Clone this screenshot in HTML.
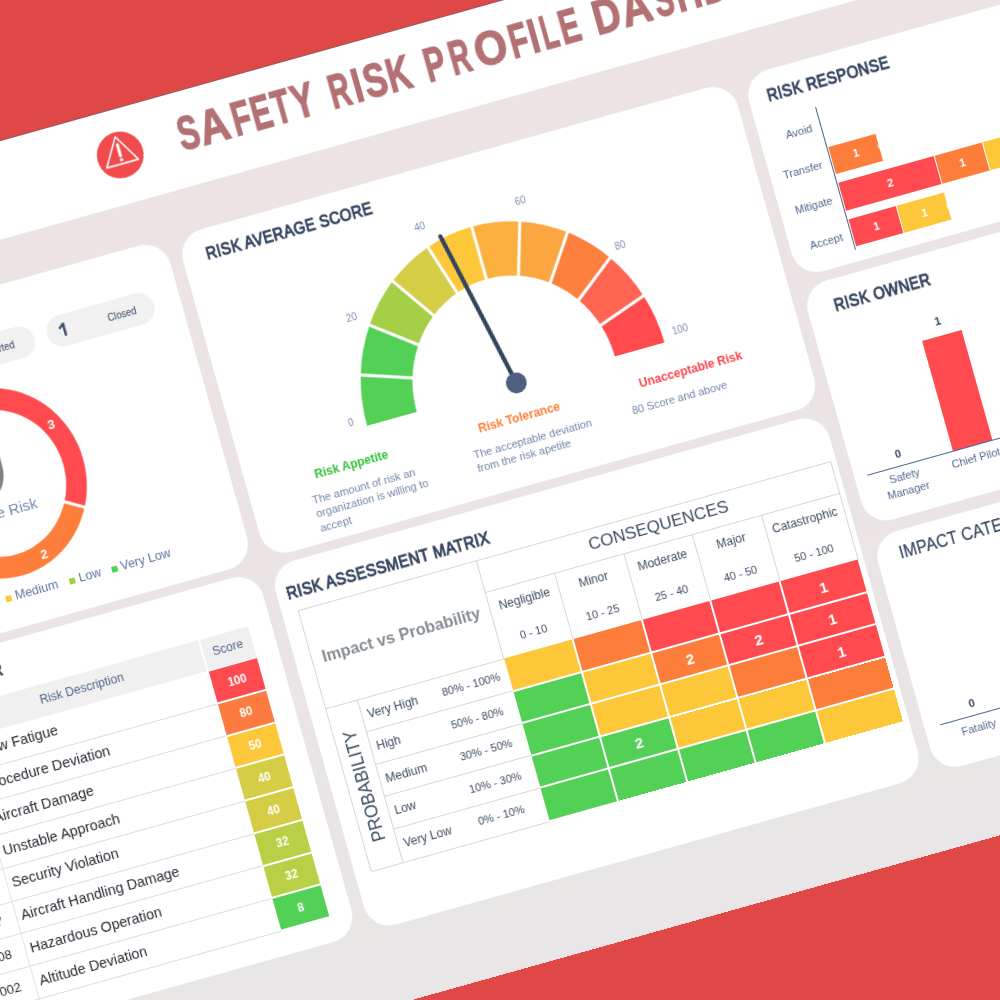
<!DOCTYPE html>
<html><head><meta charset="utf-8"><title>Safety Risk Profile Dashboard</title>
<style>
html,body{margin:0;padding:0;}
body{width:1000px;height:1000px;overflow:hidden;background:#e04848;position:relative;font-family:'Liberation Sans', sans-serif;}
#stage{position:absolute;left:0;top:0;width:0;height:0;transform-origin:0 0;will-change:transform;transform:matrix(0.962964,-0.269630,0.269630,0.962964,0,0);}
</style></head>
<body>
<div id="stage">
<div style="position:absolute;left:-900.00px;top:136.00px;width:2400.00px;height:937.30px;background:linear-gradient(180deg,#ede3e3 0%,#ebe4e4 60%,#e8e6e6 100%);"></div>
<div style="position:absolute;left:-900.00px;top:135.30px;width:2400.00px;height:1.20px;background:rgba(90,100,100,0.55);"></div>
<div style="position:absolute;left:-900.00px;top:1072.60px;width:2400.00px;height:1.20px;background:rgba(255,255,255,0.8);"></div>
<div style="position:absolute;left:-900.00px;top:136.00px;width:2400.00px;height:95.00px;background:#ffffff;"></div>
<svg style="position:absolute;left:50px;top:158px;overflow:visible" width="48" height="48" viewBox="0 0 48 48"><circle cx="24" cy="23.7" r="23.4" fill="#f24b4d"/><path d="M24 4.8 L40.5 32.6 L7.5 32.6 Z" fill="none" stroke="#fff" stroke-width="1.6" stroke-linejoin="round"/><path d="M24 13 L24 24.5" stroke="#fff" stroke-width="3" stroke-linecap="round"/><circle cx="24" cy="28.6" r="1.7" fill="#fff"/></svg>
<div style="position:absolute;left:134.65px;top:155.37px;font:bold 48px/48px 'Liberation Sans', sans-serif;color:#b37174;-webkit-text-stroke:1.3px #b37174;transform-origin:0 0;transform:scaleX(0.6635)">S</div>
<div style="position:absolute;left:156.85px;top:155.37px;font:bold 48px/48px 'Liberation Sans', sans-serif;color:#b37174;-webkit-text-stroke:1.3px #b37174;transform-origin:0 0;transform:scaleX(0.8677)">A</div>
<div style="position:absolute;left:190.51px;top:155.37px;font:bold 48px/48px 'Liberation Sans', sans-serif;color:#b37174;-webkit-text-stroke:1.3px #b37174;transform-origin:0 0;transform:scaleX(0.6439)">F</div>
<div style="position:absolute;left:211.14px;top:155.37px;font:bold 48px/48px 'Liberation Sans', sans-serif;color:#b37174;-webkit-text-stroke:1.3px #b37174;transform-origin:0 0;transform:scaleX(0.6344)">E</div>
<div style="position:absolute;left:233.10px;top:155.37px;font:bold 48px/48px 'Liberation Sans', sans-serif;color:#b37174;-webkit-text-stroke:1.3px #b37174;transform-origin:0 0;transform:scaleX(0.6125)">T</div>
<div style="position:absolute;left:253.10px;top:155.37px;font:bold 48px/48px 'Liberation Sans', sans-serif;color:#b37174;-webkit-text-stroke:1.3px #b37174;transform-origin:0 0;transform:scaleX(0.7146)">Y</div>
<div style="position:absolute;left:292.32px;top:155.37px;font:bold 48px/48px 'Liberation Sans', sans-serif;color:#b37174;-webkit-text-stroke:1.3px #b37174;transform-origin:0 0;transform:scaleX(0.6061)">R</div>
<div style="position:absolute;left:316.02px;top:155.37px;font:bold 48px/48px 'Liberation Sans', sans-serif;color:#b37174;-webkit-text-stroke:1.3px #b37174;transform-origin:0 0;transform:scaleX(0.7401)">I</div>
<div style="position:absolute;left:327.79px;top:155.37px;font:bold 48px/48px 'Liberation Sans', sans-serif;color:#b37174;-webkit-text-stroke:1.3px #b37174;transform-origin:0 0;transform:scaleX(0.7248)">S</div>
<div style="position:absolute;left:352.07px;top:155.37px;font:bold 48px/48px 'Liberation Sans', sans-serif;color:#b37174;-webkit-text-stroke:1.3px #b37174;transform-origin:0 0;transform:scaleX(0.6898)">K</div>
<div style="position:absolute;left:391.20px;top:155.37px;font:bold 48px/48px 'Liberation Sans', sans-serif;color:#b37174;-webkit-text-stroke:1.3px #b37174;transform-origin:0 0;transform:scaleX(0.6477)">P</div>
<div style="position:absolute;left:416.94px;top:155.37px;font:bold 48px/48px 'Liberation Sans', sans-serif;color:#b37174;-webkit-text-stroke:1.3px #b37174;transform-origin:0 0;transform:scaleX(0.5997)">R</div>
<div style="position:absolute;left:442.63px;top:155.37px;font:bold 48px/48px 'Liberation Sans', sans-serif;color:#b37174;-webkit-text-stroke:1.3px #b37174;transform-origin:0 0;transform:scaleX(0.8847)">O</div>
<div style="position:absolute;left:478.91px;top:155.37px;font:bold 48px/48px 'Liberation Sans', sans-serif;color:#b37174;-webkit-text-stroke:1.3px #b37174;transform-origin:0 0;transform:scaleX(0.6439)">F</div>
<div style="position:absolute;left:498.62px;top:155.37px;font:bold 48px/48px 'Liberation Sans', sans-serif;color:#b37174;-webkit-text-stroke:1.3px #b37174;transform-origin:0 0;transform:scaleX(0.7401)">I</div>
<div style="position:absolute;left:511.76px;top:155.37px;font:bold 48px/48px 'Liberation Sans', sans-serif;color:#b37174;-webkit-text-stroke:1.3px #b37174;transform-origin:0 0;transform:scaleX(0.5575)">L</div>
<div style="position:absolute;left:530.52px;top:155.37px;font:bold 48px/48px 'Liberation Sans', sans-serif;color:#b37174;-webkit-text-stroke:1.3px #b37174;transform-origin:0 0;transform:scaleX(0.6380)">E</div>
<div style="position:absolute;left:565.66px;top:155.37px;font:bold 48px/48px 'Liberation Sans', sans-serif;color:#b37174;-webkit-text-stroke:1.3px #b37174;transform-origin:0 0;transform:scaleX(0.7969)">D</div>
<div style="position:absolute;left:595.24px;top:155.37px;font:bold 48px/48px 'Liberation Sans', sans-serif;color:#b37174;-webkit-text-stroke:1.3px #b37174;transform-origin:0 0;transform:scaleX(0.8827)">A</div>
<div style="position:absolute;left:628.90px;top:155.37px;font:bold 48px/48px 'Liberation Sans', sans-serif;color:#b37174;-webkit-text-stroke:1.3px #b37174;transform-origin:0 0;transform:scaleX(0.6091)">S</div>
<div style="position:absolute;left:650.81px;top:155.37px;font:bold 48px/48px 'Liberation Sans', sans-serif;color:#b37174;-webkit-text-stroke:1.3px #b37174;transform-origin:0 0;transform:scaleX(0.7452)">H</div>
<div style="position:absolute;left:678.16px;top:155.37px;font:bold 48px/48px 'Liberation Sans', sans-serif;color:#b37174;-webkit-text-stroke:1.3px #b37174;transform-origin:0 0;transform:scaleX(0.6257)">B</div>
<div style="position:absolute;left:703.14px;top:155.37px;font:bold 48px/48px 'Liberation Sans', sans-serif;color:#b37174;-webkit-text-stroke:1.3px #b37174;transform-origin:0 0;transform:scaleX(0.8791)">O</div>
<div style="position:absolute;left:738.15px;top:155.37px;font:bold 48px/48px 'Liberation Sans', sans-serif;color:#b37174;-webkit-text-stroke:1.3px #b37174;transform-origin:0 0;transform:scaleX(0.8707)">A</div>
<div style="position:absolute;left:771.22px;top:155.37px;font:bold 48px/48px 'Liberation Sans', sans-serif;color:#b37174;-webkit-text-stroke:1.3px #b37174;transform-origin:0 0;transform:scaleX(0.6061)">R</div>
<div style="position:absolute;left:794.68px;top:155.37px;font:bold 48px/48px 'Liberation Sans', sans-serif;color:#b37174;-webkit-text-stroke:1.3px #b37174;transform-origin:0 0;transform:scaleX(0.7903)">D</div>
<div style="position:absolute;left:-500.00px;top:273.50px;width:593.30px;height:336.20px;background:#fff;border-radius:26px;"></div>
<div style="position:absolute;left:105.50px;top:274.50px;width:576.00px;height:335.20px;background:#fff;border-radius:26px;"></div>
<div style="position:absolute;left:693.60px;top:274.00px;width:700.00px;height:209.20px;background:#fff;border-radius:26px;"></div>
<div style="position:absolute;left:693.60px;top:492.90px;width:700.00px;height:247.70px;background:#fff;border-radius:26px;"></div>
<div style="position:absolute;left:693.60px;top:753.40px;width:700.00px;height:244.10px;background:#fff;border-radius:26px;"></div>
<div style="position:absolute;left:-500.00px;top:619.30px;width:593.30px;height:378.20px;background:#fff;border-radius:26px;"></div>
<div style="position:absolute;left:105.80px;top:619.40px;width:575.50px;height:378.10px;background:#fff;border-radius:26px;"></div>
<div style="position:absolute;left:-190.00px;top:318.60px;width:131.50px;height:32.30px;background:#f1f1f2;border-radius:16.15px;"></div>
<div style="position:absolute;left:-1079.30px;top:329.81px;width:1000px;text-align:right;font:normal 10.5px/10.5px 'Liberation Sans', sans-serif;color:#34455f;white-space:nowrap;letter-spacing:0px;transform-origin:100% 0;transform:scaleX(0.9);">Not Started</div>
<div style="position:absolute;left:-170.00px;top:326.61px;font:bold 17px/17px 'Liberation Sans', sans-serif;color:#3e4f6a;white-space:nowrap;letter-spacing:0px;transform-origin:0 0;transform:scaleX(1.0);">3</div>
<div style="position:absolute;left:-44.80px;top:318.60px;width:110.30px;height:32.30px;background:#f1f1f2;border-radius:16.15px;"></div>
<svg style="position:absolute;left:-35px;top:326px;overflow:visible" width="12" height="16"><path d="M8.3 2.4 L8.3 15" stroke="#3e4f6a" stroke-width="2.5" fill="none"/><path d="M8.3 2.6 L4.2 6" stroke="#3e4f6a" stroke-width="2.3" stroke-linecap="round" fill="none"/></svg>
<div style="position:absolute;left:17.50px;top:329.81px;font:normal 10.5px/10.5px 'Liberation Sans', sans-serif;color:#34455f;white-space:nowrap;letter-spacing:0px;transform-origin:0 0;transform:scaleX(0.9);">Closed</div>
<svg style="position:absolute;left:-300px;top:300px;overflow:visible" width="330" height="330"><g transform="translate(166.00,164.50) scale(1,1.059)"><path d="M-1.10 -90.29 A90.3 90.3 0 0 1 78.75 44.19 L60.78 34.11 A69.7 69.7 0 0 0 -0.85 -69.69 Z" fill="#ff4b50"/><path d="M78.75 44.19 A90.3 90.3 0 0 1 -29.85 85.23 L-23.04 65.78 A69.7 69.7 0 0 0 60.78 34.11 Z" fill="#fd7d3b"/><path d="M-29.85 85.23 A90.3 90.3 0 0 1 -89.11 -14.59 L-68.78 -11.26 A69.7 69.7 0 0 0 -23.04 65.78 Z" fill="#fdc73a"/><path d="M-89.11 -14.59 A90.3 90.3 0 0 1 -58.88 -68.46 L-45.45 -52.84 A69.7 69.7 0 0 0 -68.78 -11.26 Z" fill="#a5cf47"/><path d="M-58.88 -68.46 A90.3 90.3 0 0 1 -1.10 -90.29 L-0.85 -69.69 A69.7 69.7 0 0 0 -45.45 -52.84 Z" fill="#53d156"/><line x1="57.56" y1="32.30" x2="81.97" y2="46.00" stroke="#fff" stroke-width="3"/><line x1="-21.81" y1="62.29" x2="-31.07" y2="88.72" stroke="#fff" stroke-width="3"/><line x1="-65.13" y1="-10.67" x2="-92.76" y2="-15.19" stroke="#fff" stroke-width="3"/><line x1="-43.04" y1="-50.04" x2="-61.30" y2="-71.26" stroke="#fff" stroke-width="3"/><line x1="-0.81" y1="-66.00" x2="-1.15" y2="-93.99" stroke="#fff" stroke-width="3"/></g></svg>
<div style="position:absolute;left:-565.20px;width:1000px;text-align:center;top:415.50px;font:bold 13px/13px 'Liberation Sans', sans-serif;color:#fff;white-space:nowrap;letter-spacing:0px;transform-origin:50% 0;transform:scaleX(1.0);">3</div>
<div style="position:absolute;left:-607.00px;width:1000px;text-align:center;top:539.00px;font:bold 13px/13px 'Liberation Sans', sans-serif;color:#fff;white-space:nowrap;letter-spacing:0px;transform-origin:50% 0;transform:scaleX(1.0);">2</div>
<svg style="position:absolute;left:-165px;top:434px;overflow:visible" width="46" height="50"><path d="M23 2 L41.5 4 L41.5 15 C41.5 30 34 40 23 46 C12 40 4.5 30 4.5 15 L4.5 4 Z" fill="#7d8287"/></svg>
<div style="position:absolute;left:-644.50px;width:1000px;text-align:center;top:486.30px;font:normal 15px/15px 'Liberation Sans', sans-serif;color:#7189ae;white-space:nowrap;letter-spacing:0px;transform-origin:50% 0;transform:scaleX(1.0);">Average Risk</div>
<div style="position:absolute;left:-223.00px;top:576.00px;width:6.00px;height:6.00px;background:#ff6450;"></div>
<div style="position:absolute;left:-213.00px;top:572.42px;font:normal 12.5px/12.5px 'Liberation Sans', sans-serif;color:#5b74a0;white-space:nowrap;letter-spacing:0px;transform-origin:0 0;transform:scaleX(1.0);">High</div>
<div style="position:absolute;left:-156.00px;top:576.00px;width:6.00px;height:6.00px;background:#fdc73a;"></div>
<div style="position:absolute;left:-146.00px;top:572.42px;font:normal 12.5px/12.5px 'Liberation Sans', sans-serif;color:#5b74a0;white-space:nowrap;letter-spacing:0px;transform-origin:0 0;transform:scaleX(1.0);">Medium</div>
<div style="position:absolute;left:-89.90px;top:576.00px;width:6.00px;height:6.00px;background:#a5cf47;"></div>
<div style="position:absolute;left:-79.90px;top:572.42px;font:normal 12.5px/12.5px 'Liberation Sans', sans-serif;color:#5b74a0;white-space:nowrap;letter-spacing:0px;transform-origin:0 0;transform:scaleX(1.0);">Low</div>
<div style="position:absolute;left:-46.50px;top:576.00px;width:6.00px;height:6.00px;background:#53d156;"></div>
<div style="position:absolute;left:-36.50px;top:572.42px;font:normal 12.5px/12.5px 'Liberation Sans', sans-serif;color:#5b74a0;white-space:nowrap;letter-spacing:0px;transform-origin:0 0;transform:scaleX(1.0);">Very Low</div>
<div style="position:absolute;left:129.50px;top:291.86px;font:normal 17.3px/17.3px 'Liberation Sans', sans-serif;color:#34455f;white-space:nowrap;letter-spacing:0.45px;transform-origin:0 0;transform:scaleX(0.8584999999999999);-webkit-text-stroke:1.0px #34455f;">RISK AVERAGE SCORE</div>
<svg style="position:absolute;left:200px;top:300px;overflow:visible" width="400" height="260"><g transform="translate(193.10,208.90) scale(1,1.059)"><path d="M-154.40 0.00 A154.4 154.4 0 0 1 -146.84 -47.71 L-97.82 -31.78 A102.85 102.85 0 0 0 -102.85 0.00 Z" fill="#53d156"/><path d="M-146.84 -47.71 A154.4 154.4 0 0 1 -124.91 -90.75 L-83.21 -60.45 A102.85 102.85 0 0 0 -97.82 -31.78 Z" fill="#53d156"/><path d="M-124.91 -90.75 A154.4 154.4 0 0 1 -90.75 -124.91 L-60.45 -83.21 A102.85 102.85 0 0 0 -83.21 -60.45 Z" fill="#a5cf47"/><path d="M-90.75 -124.91 A154.4 154.4 0 0 1 -47.71 -146.84 L-31.78 -97.82 A102.85 102.85 0 0 0 -60.45 -83.21 Z" fill="#d4cd45"/><path d="M-47.71 -146.84 A154.4 154.4 0 0 1 -0.00 -154.40 L-0.00 -102.85 A102.85 102.85 0 0 0 -31.78 -97.82 Z" fill="#fdc73a"/><path d="M-0.00 -154.40 A154.4 154.4 0 0 1 47.71 -146.84 L31.78 -97.82 A102.85 102.85 0 0 0 -0.00 -102.85 Z" fill="#fbb03f"/><path d="M47.71 -146.84 A154.4 154.4 0 0 1 90.75 -124.91 L60.45 -83.21 A102.85 102.85 0 0 0 31.78 -97.82 Z" fill="#fca641"/><path d="M90.75 -124.91 A154.4 154.4 0 0 1 124.91 -90.75 L83.21 -60.45 A102.85 102.85 0 0 0 60.45 -83.21 Z" fill="#fd803f"/><path d="M124.91 -90.75 A154.4 154.4 0 0 1 146.84 -47.71 L97.82 -31.78 A102.85 102.85 0 0 0 83.21 -60.45 Z" fill="#ff6550"/><path d="M146.84 -47.71 A154.4 154.4 0 0 1 154.40 -0.00 L102.85 -0.00 A102.85 102.85 0 0 0 97.82 -31.78 Z" fill="#ff4b4e"/><line x1="-93.20" y1="-30.28" x2="-152.17" y2="-49.44" stroke="#fff" stroke-width="3"/><line x1="-79.28" y1="-57.60" x2="-129.44" y2="-94.05" stroke="#fff" stroke-width="3"/><line x1="-57.60" y1="-79.28" x2="-94.05" y2="-129.44" stroke="#fff" stroke-width="3"/><line x1="-30.28" y1="-93.20" x2="-49.44" y2="-152.17" stroke="#fff" stroke-width="3"/><line x1="-0.00" y1="-98.00" x2="-0.00" y2="-160.00" stroke="#fff" stroke-width="3"/><line x1="30.28" y1="-93.20" x2="49.44" y2="-152.17" stroke="#fff" stroke-width="3"/><line x1="57.60" y1="-79.28" x2="94.05" y2="-129.44" stroke="#fff" stroke-width="3"/><line x1="79.28" y1="-57.60" x2="129.44" y2="-94.05" stroke="#fff" stroke-width="3"/><line x1="93.20" y1="-30.28" x2="152.17" y2="-49.44" stroke="#fff" stroke-width="3"/></g><line x1="194.00" y1="207.80" x2="160.30" y2="46.40" stroke="#34455f" stroke-width="4.3" stroke-linecap="round"/><circle cx="194.00" cy="207.80" r="10.4" fill="#4f5f7f"/></svg>
<div style="position:absolute;left:-275.60px;width:1000px;text-align:center;top:496.29px;font:normal 11px/11px 'Liberation Sans', sans-serif;color:#7b8db0;white-space:nowrap;letter-spacing:0px;transform-origin:50% 0;transform:scaleX(0.88);">0</div>
<div style="position:absolute;left:-246.60px;width:1000px;text-align:center;top:395.39px;font:normal 11px/11px 'Liberation Sans', sans-serif;color:#7b8db0;white-space:nowrap;letter-spacing:0px;transform-origin:50% 0;transform:scaleX(0.88);">20</div>
<div style="position:absolute;left:-156.60px;width:1000px;text-align:center;top:326.09px;font:normal 11px/11px 'Liberation Sans', sans-serif;color:#7b8db0;white-space:nowrap;letter-spacing:0px;transform-origin:50% 0;transform:scaleX(0.88);">40</div>
<div style="position:absolute;left:-53.40px;width:1000px;text-align:center;top:328.39px;font:normal 11px/11px 'Liberation Sans', sans-serif;color:#7b8db0;white-space:nowrap;letter-spacing:0px;transform-origin:50% 0;transform:scaleX(0.88);">60</div>
<div style="position:absolute;left:30.60px;width:1000px;text-align:center;top:397.89px;font:normal 11px/11px 'Liberation Sans', sans-serif;color:#7b8db0;white-space:nowrap;letter-spacing:0px;transform-origin:50% 0;transform:scaleX(0.88);">80</div>
<div style="position:absolute;left:66.10px;width:1000px;text-align:center;top:495.09px;font:normal 11px/11px 'Liberation Sans', sans-serif;color:#7b8db0;white-space:nowrap;letter-spacing:0px;transform-origin:50% 0;transform:scaleX(0.88);">100</div>
<div style="position:absolute;left:175.00px;top:535.84px;font:bold 12px/12px 'Liberation Sans', sans-serif;color:#33c236;white-space:nowrap;letter-spacing:0px;transform-origin:0 0;transform:scaleX(1.0);">Risk Appetite</div>
<div style="position:absolute;left:345.00px;top:536.14px;font:bold 12px/12px 'Liberation Sans', sans-serif;color:#fd7e3a;white-space:nowrap;letter-spacing:0px;transform-origin:0 0;transform:scaleX(1.0);">Risk Tolerance</div>
<div style="position:absolute;left:512.00px;top:536.14px;font:bold 12px/12px 'Liberation Sans', sans-serif;color:#ff434b;white-space:nowrap;letter-spacing:0px;transform-origin:0 0;transform:scaleX(1.0);">Unacceptable Risk</div>
<div style="position:absolute;left:166.00px;top:560.99px;font:normal 11px/11px 'Liberation Sans', sans-serif;color:#7186ab;white-space:nowrap;letter-spacing:0px;transform-origin:0 0;transform:scaleX(1.0);">The amount of risk an</div>
<div style="position:absolute;left:166.00px;top:575.49px;font:normal 11px/11px 'Liberation Sans', sans-serif;color:#7186ab;white-space:nowrap;letter-spacing:0px;transform-origin:0 0;transform:scaleX(1.0);">organization is willing to</div>
<div style="position:absolute;left:166.00px;top:589.99px;font:normal 11px/11px 'Liberation Sans', sans-serif;color:#7186ab;white-space:nowrap;letter-spacing:0px;transform-origin:0 0;transform:scaleX(1.0);">accept</div>
<div style="position:absolute;left:333.50px;top:560.99px;font:normal 11px/11px 'Liberation Sans', sans-serif;color:#7186ab;white-space:nowrap;letter-spacing:0px;transform-origin:0 0;transform:scaleX(1.0);">The acceptable deviation</div>
<div style="position:absolute;left:333.50px;top:575.49px;font:normal 11px/11px 'Liberation Sans', sans-serif;color:#7186ab;white-space:nowrap;letter-spacing:0px;transform-origin:0 0;transform:scaleX(1.0);">from the risk apetite</div>
<div style="position:absolute;left:498.00px;top:560.69px;font:normal 11px/11px 'Liberation Sans', sans-serif;color:#7186ab;white-space:nowrap;letter-spacing:0px;transform-origin:0 0;transform:scaleX(1.0);">80 Score and above</div>
<div style="position:absolute;left:713.00px;top:290.66px;font:normal 17.3px/17.3px 'Liberation Sans', sans-serif;color:#34455f;white-space:nowrap;letter-spacing:0.45px;transform-origin:0 0;transform:scaleX(0.8584999999999999);-webkit-text-stroke:1.0px #34455f;">RISK RESPONSE</div>
<div style="position:absolute;left:756.10px;top:322.80px;width:1.00px;height:148.20px;background:#4a6590;"></div>
<div style="position:absolute;left:-252.50px;top:337.19px;width:1000px;text-align:right;font:normal 11px/11px 'Liberation Sans', sans-serif;color:#51688f;white-space:nowrap;letter-spacing:0px;transform-origin:100% 0;transform:scaleX(1.0);">Avoid</div>
<div style="position:absolute;left:-252.50px;top:374.69px;width:1000px;text-align:right;font:normal 11px/11px 'Liberation Sans', sans-serif;color:#51688f;white-space:nowrap;letter-spacing:0px;transform-origin:100% 0;transform:scaleX(1.0);">Transfer</div>
<div style="position:absolute;left:-252.50px;top:411.99px;width:1000px;text-align:right;font:normal 11px/11px 'Liberation Sans', sans-serif;color:#51688f;white-space:nowrap;letter-spacing:0px;transform-origin:100% 0;transform:scaleX(1.0);">Mitigate</div>
<div style="position:absolute;left:-252.50px;top:449.69px;width:1000px;text-align:right;font:normal 11px/11px 'Liberation Sans', sans-serif;color:#51688f;white-space:nowrap;letter-spacing:0px;transform-origin:100% 0;transform:scaleX(1.0);">Accept</div>
<div style="position:absolute;left:758.00px;top:364.50px;width:50.00px;height:28.70px;background:#fd7d3b;"></div>
<div style="position:absolute;left:283.00px;width:1000px;text-align:center;top:373.49px;font:bold 11px/11px 'Liberation Sans', sans-serif;color:#fff;white-space:nowrap;letter-spacing:0px;transform-origin:50% 0;transform:scaleX(1.0);">1</div>
<div style="position:absolute;left:807.25px;top:364.50px;width:1.50px;height:28.70px;background:#fff;"></div>
<div style="position:absolute;left:308.00px;width:1000px;text-align:center;top:374.38px;font:normal 9px/9px 'Liberation Sans', sans-serif;color:#fff;white-space:nowrap;letter-spacing:0px;transform-origin:50% 0;transform:scaleX(1.0);">0</div>
<div style="position:absolute;left:758.00px;top:402.00px;width:100.00px;height:28.70px;background:#ff4b50;"></div>
<div style="position:absolute;left:308.00px;width:1000px;text-align:center;top:410.99px;font:bold 11px/11px 'Liberation Sans', sans-serif;color:#fff;white-space:nowrap;letter-spacing:0px;transform-origin:50% 0;transform:scaleX(1.0);">2</div>
<div style="position:absolute;left:857.25px;top:402.00px;width:1.50px;height:28.70px;background:#fff;"></div>
<div style="position:absolute;left:858.00px;top:402.00px;width:50.00px;height:28.70px;background:#fd7d3b;"></div>
<div style="position:absolute;left:383.00px;width:1000px;text-align:center;top:410.99px;font:bold 11px/11px 'Liberation Sans', sans-serif;color:#fff;white-space:nowrap;letter-spacing:0px;transform-origin:50% 0;transform:scaleX(1.0);">1</div>
<div style="position:absolute;left:907.25px;top:402.00px;width:1.50px;height:28.70px;background:#fff;"></div>
<div style="position:absolute;left:908.00px;top:402.00px;width:50.00px;height:28.70px;background:#fdc73a;"></div>
<div style="position:absolute;left:433.00px;width:1000px;text-align:center;top:410.99px;font:bold 11px/11px 'Liberation Sans', sans-serif;color:#fff;white-space:nowrap;letter-spacing:0px;transform-origin:50% 0;transform:scaleX(1.0);">1</div>
<div style="position:absolute;left:957.25px;top:402.00px;width:1.50px;height:28.70px;background:#fff;"></div>
<div style="position:absolute;left:458.00px;width:1000px;text-align:center;top:411.88px;font:normal 9px/9px 'Liberation Sans', sans-serif;color:#fff;white-space:nowrap;letter-spacing:0px;transform-origin:50% 0;transform:scaleX(1.0);">0</div>
<div style="position:absolute;left:758.00px;top:439.70px;width:50.00px;height:28.70px;background:#ff4b50;"></div>
<div style="position:absolute;left:283.00px;width:1000px;text-align:center;top:448.69px;font:bold 11px/11px 'Liberation Sans', sans-serif;color:#fff;white-space:nowrap;letter-spacing:0px;transform-origin:50% 0;transform:scaleX(1.0);">1</div>
<div style="position:absolute;left:807.25px;top:439.70px;width:1.50px;height:28.70px;background:#fff;"></div>
<div style="position:absolute;left:808.00px;top:439.70px;width:50.00px;height:28.70px;background:#fdc73a;"></div>
<div style="position:absolute;left:333.00px;width:1000px;text-align:center;top:448.69px;font:bold 11px/11px 'Liberation Sans', sans-serif;color:#fff;white-space:nowrap;letter-spacing:0px;transform-origin:50% 0;transform:scaleX(1.0);">1</div>
<div style="position:absolute;left:857.25px;top:439.70px;width:1.50px;height:28.70px;background:#fff;"></div>
<div style="position:absolute;left:358.00px;width:1000px;text-align:center;top:449.58px;font:normal 9px/9px 'Liberation Sans', sans-serif;color:#fff;white-space:nowrap;letter-spacing:0px;transform-origin:50% 0;transform:scaleX(1.0);">0</div>
<div style="position:absolute;left:721.00px;top:511.36px;font:normal 17.3px/17.3px 'Liberation Sans', sans-serif;color:#34455f;white-space:nowrap;letter-spacing:0.45px;transform-origin:0 0;transform:scaleX(0.8584999999999999);-webkit-text-stroke:1.0px #34455f;">RISK OWNER</div>
<div style="position:absolute;left:706.50px;top:690.90px;width:593.50px;height:1.00px;background:#4a6590;"></div>
<div style="position:absolute;left:796.00px;top:576.50px;width:41.00px;height:114.50px;background:#ff4b50;"></div>
<div style="position:absolute;left:316.30px;width:1000px;text-align:center;top:557.49px;font:bold 11px/11px 'Liberation Sans', sans-serif;color:#34455f;white-space:nowrap;letter-spacing:0px;transform-origin:50% 0;transform:scaleX(1.0);">1</div>
<div style="position:absolute;left:242.40px;width:1000px;text-align:center;top:673.69px;font:bold 11px/11px 'Liberation Sans', sans-serif;color:#34455f;white-space:nowrap;letter-spacing:0px;transform-origin:50% 0;transform:scaleX(1.0);">0</div>
<div style="position:absolute;left:242.70px;width:1000px;text-align:center;top:696.69px;font:normal 11px/11px 'Liberation Sans', sans-serif;color:#51688f;white-space:nowrap;letter-spacing:0px;transform-origin:50% 0;transform:scaleX(1.0);">Safety</div>
<div style="position:absolute;left:242.70px;width:1000px;text-align:center;top:711.69px;font:normal 11px/11px 'Liberation Sans', sans-serif;color:#51688f;white-space:nowrap;letter-spacing:0px;transform-origin:50% 0;transform:scaleX(1.0);">Manager</div>
<div style="position:absolute;left:316.30px;width:1000px;text-align:center;top:698.69px;font:normal 11px/11px 'Liberation Sans', sans-serif;color:#51688f;white-space:nowrap;letter-spacing:0px;transform-origin:50% 0;transform:scaleX(1.0);">Chief Pilot</div>
<div style="position:absolute;left:716.50px;top:765.91px;font:normal 18.3px/18.3px 'Liberation Sans', sans-serif;color:#34455f;white-space:nowrap;letter-spacing:0.2px;transform-origin:0 0;transform:scaleX(0.875);-webkit-text-stroke:0.2px #34455f;">IMPACT CATEGORY</div>
<div style="position:absolute;left:709.80px;top:950.50px;width:590.20px;height:1.00px;background:#4a6590;"></div>
<div style="position:absolute;left:246.00px;width:1000px;text-align:center;top:933.69px;font:bold 11px/11px 'Liberation Sans', sans-serif;color:#34455f;white-space:nowrap;letter-spacing:0px;transform-origin:50% 0;transform:scaleX(1.0);">0</div>
<div style="position:absolute;left:246.50px;width:1000px;text-align:center;top:958.69px;font:normal 11px/11px 'Liberation Sans', sans-serif;color:#51688f;white-space:nowrap;letter-spacing:0px;transform-origin:50% 0;transform:scaleX(1.0);">Fatality</div>
<div style="position:absolute;left:-1178.00px;top:635.76px;width:1000px;text-align:right;font:bold 18px/18px 'Liberation Sans', sans-serif;color:#34455f;white-space:nowrap;letter-spacing:0px;transform-origin:100% 0;transform:scaleX(0.85);transform-origin:100% 0;">TOP RISKS REGISTER</div>
<div style="position:absolute;left:-500.00px;top:669.50px;width:518.00px;height:32.00px;background:#f0f0f0;"></div>
<div style="position:absolute;left:20.00px;top:669.50px;width:49.50px;height:32.00px;background:#f0f0f0;"></div>
<div style="position:absolute;left:-607.00px;width:1000px;text-align:center;top:679.34px;font:normal 12px/12px 'Liberation Sans', sans-serif;color:#4e6489;white-space:nowrap;letter-spacing:0px;transform-origin:50% 0;transform:scaleX(1.0);">Risk Description</div>
<div style="position:absolute;left:-455.30px;width:1000px;text-align:center;top:678.84px;font:normal 12px/12px 'Liberation Sans', sans-serif;color:#4e6489;white-space:nowrap;letter-spacing:0px;transform-origin:50% 0;transform:scaleX(1.0);">Score</div>
<div style="position:absolute;left:19.50px;top:703.00px;width:50.00px;height:31.75px;background:#ff4b50;"></div>
<div style="position:absolute;left:-455.50px;width:1000px;text-align:center;top:711.57px;font:bold 13.5px/13.5px 'Liberation Sans', sans-serif;color:#fff;white-space:nowrap;letter-spacing:0px;transform-origin:50% 0;transform:scaleX(0.85);">100</div>
<div style="position:absolute;left:-500.00px;top:735.55px;width:519.50px;height:1.00px;background:#dcdcdc;"></div>
<div style="position:absolute;left:-226.50px;top:711.37px;font:normal 14.33px/14.33px 'Liberation Sans', sans-serif;color:#262b33;white-space:nowrap;letter-spacing:0px;transform-origin:0 0;transform:scaleX(1.0);">Crew Fatigue</div>
<div style="position:absolute;left:-1246.00px;top:712.50px;width:1000px;text-align:right;font:normal 13px/13px 'Liberation Sans', sans-serif;color:#262b33;white-space:nowrap;letter-spacing:0px;transform-origin:100% 0;transform:scaleX(1.0);">RSK-001</div>
<div style="position:absolute;left:19.50px;top:736.75px;width:50.00px;height:31.75px;background:#fd7a40;"></div>
<div style="position:absolute;left:-455.50px;width:1000px;text-align:center;top:745.32px;font:bold 13.5px/13.5px 'Liberation Sans', sans-serif;color:#fff;white-space:nowrap;letter-spacing:0px;transform-origin:50% 0;transform:scaleX(0.85);">80</div>
<div style="position:absolute;left:-500.00px;top:769.30px;width:519.50px;height:1.00px;background:#dcdcdc;"></div>
<div style="position:absolute;left:-226.50px;top:745.12px;font:normal 14.33px/14.33px 'Liberation Sans', sans-serif;color:#262b33;white-space:nowrap;letter-spacing:0px;transform-origin:0 0;transform:scaleX(1.0);">Procedure Deviation</div>
<div style="position:absolute;left:-1246.00px;top:746.25px;width:1000px;text-align:right;font:normal 13px/13px 'Liberation Sans', sans-serif;color:#262b33;white-space:nowrap;letter-spacing:0px;transform-origin:100% 0;transform:scaleX(1.0);">RSK-003</div>
<div style="position:absolute;left:19.50px;top:770.50px;width:50.00px;height:31.75px;background:#fdc73a;"></div>
<div style="position:absolute;left:-455.50px;width:1000px;text-align:center;top:779.07px;font:bold 13.5px/13.5px 'Liberation Sans', sans-serif;color:#fff;white-space:nowrap;letter-spacing:0px;transform-origin:50% 0;transform:scaleX(0.85);">50</div>
<div style="position:absolute;left:-500.00px;top:803.05px;width:519.50px;height:1.00px;background:#dcdcdc;"></div>
<div style="position:absolute;left:-226.50px;top:778.87px;font:normal 14.33px/14.33px 'Liberation Sans', sans-serif;color:#262b33;white-space:nowrap;letter-spacing:0px;transform-origin:0 0;transform:scaleX(1.0);">Aircraft Damage</div>
<div style="position:absolute;left:-1246.00px;top:780.00px;width:1000px;text-align:right;font:normal 13px/13px 'Liberation Sans', sans-serif;color:#262b33;white-space:nowrap;letter-spacing:0px;transform-origin:100% 0;transform:scaleX(1.0);">RSK-005</div>
<div style="position:absolute;left:19.50px;top:804.25px;width:50.00px;height:31.75px;background:#d4cd45;"></div>
<div style="position:absolute;left:-455.50px;width:1000px;text-align:center;top:812.82px;font:bold 13.5px/13.5px 'Liberation Sans', sans-serif;color:#fff;white-space:nowrap;letter-spacing:0px;transform-origin:50% 0;transform:scaleX(0.85);">40</div>
<div style="position:absolute;left:-500.00px;top:836.80px;width:519.50px;height:1.00px;background:#dcdcdc;"></div>
<div style="position:absolute;left:-226.50px;top:812.62px;font:normal 14.33px/14.33px 'Liberation Sans', sans-serif;color:#262b33;white-space:nowrap;letter-spacing:0px;transform-origin:0 0;transform:scaleX(1.0);">Unstable Approach</div>
<div style="position:absolute;left:-1246.00px;top:813.75px;width:1000px;text-align:right;font:normal 13px/13px 'Liberation Sans', sans-serif;color:#262b33;white-space:nowrap;letter-spacing:0px;transform-origin:100% 0;transform:scaleX(1.0);">RSK-004</div>
<div style="position:absolute;left:19.50px;top:838.00px;width:50.00px;height:31.75px;background:#d4cd45;"></div>
<div style="position:absolute;left:-455.50px;width:1000px;text-align:center;top:846.57px;font:bold 13.5px/13.5px 'Liberation Sans', sans-serif;color:#fff;white-space:nowrap;letter-spacing:0px;transform-origin:50% 0;transform:scaleX(0.85);">40</div>
<div style="position:absolute;left:-500.00px;top:870.55px;width:519.50px;height:1.00px;background:#dcdcdc;"></div>
<div style="position:absolute;left:-226.50px;top:846.37px;font:normal 14.33px/14.33px 'Liberation Sans', sans-serif;color:#262b33;white-space:nowrap;letter-spacing:0px;transform-origin:0 0;transform:scaleX(1.0);">Security Violation</div>
<div style="position:absolute;left:-1246.00px;top:847.50px;width:1000px;text-align:right;font:normal 13px/13px 'Liberation Sans', sans-serif;color:#262b33;white-space:nowrap;letter-spacing:0px;transform-origin:100% 0;transform:scaleX(1.0);">RSK-006</div>
<div style="position:absolute;left:19.50px;top:871.75px;width:50.00px;height:31.75px;background:#b9cf45;"></div>
<div style="position:absolute;left:-455.50px;width:1000px;text-align:center;top:880.32px;font:bold 13.5px/13.5px 'Liberation Sans', sans-serif;color:#fff;white-space:nowrap;letter-spacing:0px;transform-origin:50% 0;transform:scaleX(0.85);">32</div>
<div style="position:absolute;left:-500.00px;top:904.30px;width:519.50px;height:1.00px;background:#dcdcdc;"></div>
<div style="position:absolute;left:-226.50px;top:880.12px;font:normal 14.33px/14.33px 'Liberation Sans', sans-serif;color:#262b33;white-space:nowrap;letter-spacing:0px;transform-origin:0 0;transform:scaleX(1.0);">Aircraft Handling Damage</div>
<div style="position:absolute;left:-1246.00px;top:881.25px;width:1000px;text-align:right;font:normal 13px/13px 'Liberation Sans', sans-serif;color:#262b33;white-space:nowrap;letter-spacing:0px;transform-origin:100% 0;transform:scaleX(1.0);">RSK-007</div>
<div style="position:absolute;left:19.50px;top:905.50px;width:50.00px;height:31.75px;background:#b9cf45;"></div>
<div style="position:absolute;left:-455.50px;width:1000px;text-align:center;top:914.07px;font:bold 13.5px/13.5px 'Liberation Sans', sans-serif;color:#fff;white-space:nowrap;letter-spacing:0px;transform-origin:50% 0;transform:scaleX(0.85);">32</div>
<div style="position:absolute;left:-500.00px;top:938.05px;width:519.50px;height:1.00px;background:#dcdcdc;"></div>
<div style="position:absolute;left:-226.50px;top:913.87px;font:normal 14.33px/14.33px 'Liberation Sans', sans-serif;color:#262b33;white-space:nowrap;letter-spacing:0px;transform-origin:0 0;transform:scaleX(1.0);">Hazardous Operation</div>
<div style="position:absolute;left:-1246.00px;top:915.00px;width:1000px;text-align:right;font:normal 13px/13px 'Liberation Sans', sans-serif;color:#262b33;white-space:nowrap;letter-spacing:0px;transform-origin:100% 0;transform:scaleX(1.0);">RSK-008</div>
<div style="position:absolute;left:19.50px;top:939.25px;width:50.00px;height:31.75px;background:#53d156;"></div>
<div style="position:absolute;left:-455.50px;width:1000px;text-align:center;top:947.82px;font:bold 13.5px/13.5px 'Liberation Sans', sans-serif;color:#fff;white-space:nowrap;letter-spacing:0px;transform-origin:50% 0;transform:scaleX(0.85);">8</div>
<div style="position:absolute;left:-500.00px;top:971.80px;width:519.50px;height:1.00px;background:#dcdcdc;"></div>
<div style="position:absolute;left:-226.50px;top:947.62px;font:normal 14.33px/14.33px 'Liberation Sans', sans-serif;color:#262b33;white-space:nowrap;letter-spacing:0px;transform-origin:0 0;transform:scaleX(1.0);">Altitude Deviation</div>
<div style="position:absolute;left:-1246.00px;top:948.75px;width:1000px;text-align:right;font:normal 13px/13px 'Liberation Sans', sans-serif;color:#262b33;white-space:nowrap;letter-spacing:0px;transform-origin:100% 0;transform:scaleX(1.0);">RSK-002</div>
<div style="position:absolute;left:-232.50px;top:701.50px;width:1.00px;height:295.50px;background:#e2e2e2;"></div>
<div style="position:absolute;left:116.00px;top:641.36px;font:normal 17.3px/17.3px 'Liberation Sans', sans-serif;color:#34455f;white-space:nowrap;letter-spacing:0.45px;transform-origin:0 0;transform:scaleX(0.87365);-webkit-text-stroke:1.0px #34455f;">RISK ASSESSMENT MATRIX</div>
<div style="position:absolute;left:122.50px;top:667.50px;width:553.30px;height:1.00px;background:#d6d6d6;"></div>
<div style="position:absolute;left:122.00px;top:668.00px;width:1.00px;height:271.00px;background:#d6d6d6;"></div>
<div style="position:absolute;left:122.50px;top:938.50px;width:185.30px;height:1.00px;background:#d6d6d6;"></div>
<div style="position:absolute;left:675.30px;top:668.00px;width:1.00px;height:102.30px;background:#d6d6d6;"></div>
<div style="position:absolute;left:307.30px;top:668.00px;width:1.00px;height:102.30px;background:#d6d6d6;"></div>
<div style="position:absolute;left:122.50px;top:769.80px;width:185.30px;height:1.00px;background:#d6d6d6;"></div>
<div style="position:absolute;left:307.80px;top:700.50px;width:368.00px;height:1.00px;background:#d6d6d6;"></div>
<div style="position:absolute;left:378.70px;top:701.00px;width:1.00px;height:69.30px;background:#d6d6d6;"></div>
<div style="position:absolute;left:450.70px;top:701.00px;width:1.00px;height:69.30px;background:#d6d6d6;"></div>
<div style="position:absolute;left:521.90px;top:701.00px;width:1.00px;height:69.30px;background:#d6d6d6;"></div>
<div style="position:absolute;left:593.60px;top:701.00px;width:1.00px;height:69.30px;background:#d6d6d6;"></div>
<div style="position:absolute;left:154.80px;top:770.30px;width:1.00px;height:168.70px;background:#d6d6d6;"></div>
<div style="position:absolute;left:155.30px;top:803.30px;width:152.50px;height:1.00px;background:#d6d6d6;"></div>
<div style="position:absolute;left:155.30px;top:836.80px;width:152.50px;height:1.00px;background:#d6d6d6;"></div>
<div style="position:absolute;left:155.30px;top:870.30px;width:152.50px;height:1.00px;background:#d6d6d6;"></div>
<div style="position:absolute;left:155.30px;top:903.80px;width:152.50px;height:1.00px;background:#d6d6d6;"></div>
<div style="position:absolute;left:307.80px;top:770.30px;width:70.40px;height:32.50px;background:#fdc73a;"></div>
<div style="position:absolute;left:380.20px;top:770.30px;width:70.00px;height:32.50px;background:#fd7d3b;"></div>
<div style="position:absolute;left:452.20px;top:770.30px;width:69.20px;height:32.50px;background:#ff4b50;"></div>
<div style="position:absolute;left:523.40px;top:770.30px;width:69.70px;height:32.50px;background:#ff4b50;"></div>
<div style="position:absolute;left:595.10px;top:770.30px;width:80.20px;height:32.50px;background:#ff4b50;"></div>
<div style="position:absolute;left:134.70px;width:1000px;text-align:center;top:779.85px;font:bold 15px/15px 'Liberation Sans', sans-serif;color:#fff;white-space:nowrap;letter-spacing:0px;transform-origin:50% 0;transform:scaleX(1.0);">1</div>
<div style="position:absolute;left:307.80px;top:804.80px;width:70.40px;height:31.50px;background:#53d156;"></div>
<div style="position:absolute;left:380.20px;top:804.80px;width:70.00px;height:31.50px;background:#fdc73a;"></div>
<div style="position:absolute;left:452.20px;top:804.80px;width:69.20px;height:31.50px;background:#fd7d3b;"></div>
<div style="position:absolute;left:-13.20px;width:1000px;text-align:center;top:813.35px;font:bold 15px/15px 'Liberation Sans', sans-serif;color:#fff;white-space:nowrap;letter-spacing:0px;transform-origin:50% 0;transform:scaleX(1.0);">2</div>
<div style="position:absolute;left:523.40px;top:804.80px;width:69.70px;height:31.50px;background:#ff4b50;"></div>
<div style="position:absolute;left:58.25px;width:1000px;text-align:center;top:813.35px;font:bold 15px/15px 'Liberation Sans', sans-serif;color:#fff;white-space:nowrap;letter-spacing:0px;transform-origin:50% 0;transform:scaleX(1.0);">2</div>
<div style="position:absolute;left:595.10px;top:804.80px;width:80.20px;height:31.50px;background:#ff4b50;"></div>
<div style="position:absolute;left:134.70px;width:1000px;text-align:center;top:813.35px;font:bold 15px/15px 'Liberation Sans', sans-serif;color:#fff;white-space:nowrap;letter-spacing:0px;transform-origin:50% 0;transform:scaleX(1.0);">1</div>
<div style="position:absolute;left:307.80px;top:838.30px;width:70.40px;height:31.50px;background:#53d156;"></div>
<div style="position:absolute;left:380.20px;top:838.30px;width:70.00px;height:31.50px;background:#fdc73a;"></div>
<div style="position:absolute;left:452.20px;top:838.30px;width:69.20px;height:31.50px;background:#fdc73a;"></div>
<div style="position:absolute;left:523.40px;top:838.30px;width:69.70px;height:31.50px;background:#fd7d3b;"></div>
<div style="position:absolute;left:595.10px;top:838.30px;width:80.20px;height:31.50px;background:#ff4b50;"></div>
<div style="position:absolute;left:134.70px;width:1000px;text-align:center;top:846.85px;font:bold 15px/15px 'Liberation Sans', sans-serif;color:#fff;white-space:nowrap;letter-spacing:0px;transform-origin:50% 0;transform:scaleX(1.0);">1</div>
<div style="position:absolute;left:307.80px;top:871.80px;width:70.40px;height:31.50px;background:#53d156;"></div>
<div style="position:absolute;left:380.20px;top:871.80px;width:70.00px;height:31.50px;background:#53d156;"></div>
<div style="position:absolute;left:-84.80px;width:1000px;text-align:center;top:880.35px;font:bold 15px/15px 'Liberation Sans', sans-serif;color:#fff;white-space:nowrap;letter-spacing:0px;transform-origin:50% 0;transform:scaleX(1.0);">2</div>
<div style="position:absolute;left:452.20px;top:871.80px;width:69.20px;height:31.50px;background:#fdc73a;"></div>
<div style="position:absolute;left:523.40px;top:871.80px;width:69.70px;height:31.50px;background:#fdc73a;"></div>
<div style="position:absolute;left:595.10px;top:871.80px;width:80.20px;height:31.50px;background:#fd7d3b;"></div>
<div style="position:absolute;left:307.80px;top:905.30px;width:70.40px;height:32.50px;background:#53d156;"></div>
<div style="position:absolute;left:380.20px;top:905.30px;width:70.00px;height:32.50px;background:#53d156;"></div>
<div style="position:absolute;left:452.20px;top:905.30px;width:69.20px;height:32.50px;background:#53d156;"></div>
<div style="position:absolute;left:523.40px;top:905.30px;width:69.70px;height:32.50px;background:#53d156;"></div>
<div style="position:absolute;left:595.10px;top:905.30px;width:80.20px;height:32.50px;background:#fdc73a;"></div>
<div style="position:absolute;left:-284.80px;width:1000px;text-align:center;top:711.20px;font:bold 16.3px/16.3px 'Liberation Sans', sans-serif;color:#858c93;white-space:nowrap;letter-spacing:0px;transform-origin:50% 0;transform:scaleX(1.0);">Impact vs Probability</div>
<div style="position:absolute;left:-7.70px;width:1000px;text-align:center;top:675.11px;font:normal 17px/17px 'Liberation Sans', sans-serif;color:#3d4b63;white-space:nowrap;letter-spacing:0px;transform-origin:50% 0;transform:scaleX(1.0);">CONSEQUENCES</div>
<div style="position:absolute;left:-156.50px;width:1000px;text-align:center;top:712.14px;font:normal 12px/12px 'Liberation Sans', sans-serif;color:#3d4b63;white-space:nowrap;letter-spacing:0px;transform-origin:50% 0;transform:scaleX(1.0);">Negligible</div>
<div style="position:absolute;left:-156.50px;width:1000px;text-align:center;top:746.69px;font:normal 11px/11px 'Liberation Sans', sans-serif;color:#3d4b63;white-space:nowrap;letter-spacing:0px;transform-origin:50% 0;transform:scaleX(1.0);">0 - 10</div>
<div style="position:absolute;left:-84.80px;width:1000px;text-align:center;top:712.14px;font:normal 12px/12px 'Liberation Sans', sans-serif;color:#3d4b63;white-space:nowrap;letter-spacing:0px;transform-origin:50% 0;transform:scaleX(1.0);">Minor</div>
<div style="position:absolute;left:-84.80px;width:1000px;text-align:center;top:746.69px;font:normal 11px/11px 'Liberation Sans', sans-serif;color:#3d4b63;white-space:nowrap;letter-spacing:0px;transform-origin:50% 0;transform:scaleX(1.0);">10 - 25</div>
<div style="position:absolute;left:-13.20px;width:1000px;text-align:center;top:712.14px;font:normal 12px/12px 'Liberation Sans', sans-serif;color:#3d4b63;white-space:nowrap;letter-spacing:0px;transform-origin:50% 0;transform:scaleX(1.0);">Moderate</div>
<div style="position:absolute;left:-13.20px;width:1000px;text-align:center;top:746.69px;font:normal 11px/11px 'Liberation Sans', sans-serif;color:#3d4b63;white-space:nowrap;letter-spacing:0px;transform-origin:50% 0;transform:scaleX(1.0);">25 - 40</div>
<div style="position:absolute;left:58.25px;width:1000px;text-align:center;top:712.14px;font:normal 12px/12px 'Liberation Sans', sans-serif;color:#3d4b63;white-space:nowrap;letter-spacing:0px;transform-origin:50% 0;transform:scaleX(1.0);">Major</div>
<div style="position:absolute;left:58.25px;width:1000px;text-align:center;top:746.69px;font:normal 11px/11px 'Liberation Sans', sans-serif;color:#3d4b63;white-space:nowrap;letter-spacing:0px;transform-origin:50% 0;transform:scaleX(1.0);">40 - 50</div>
<div style="position:absolute;left:134.70px;width:1000px;text-align:center;top:712.14px;font:normal 12px/12px 'Liberation Sans', sans-serif;color:#3d4b63;white-space:nowrap;letter-spacing:0px;transform-origin:50% 0;transform:scaleX(1.0);">Catastrophic</div>
<div style="position:absolute;left:134.70px;width:1000px;text-align:center;top:746.69px;font:normal 11px/11px 'Liberation Sans', sans-serif;color:#3d4b63;white-space:nowrap;letter-spacing:0px;transform-origin:50% 0;transform:scaleX(1.0);">50 - 100</div>
<div style="position:absolute;left:161.50px;top:780.64px;font:normal 12px/12px 'Liberation Sans', sans-serif;color:#3d4b63;white-space:nowrap;letter-spacing:0px;transform-origin:0 0;transform:scaleX(1.0);">Very High</div>
<div style="position:absolute;left:239.00px;top:781.49px;font:normal 11px/11px 'Liberation Sans', sans-serif;color:#3d4b63;white-space:nowrap;letter-spacing:0px;transform-origin:0 0;transform:scaleX(1.0);">80% - 100%</div>
<div style="position:absolute;left:161.50px;top:814.14px;font:normal 12px/12px 'Liberation Sans', sans-serif;color:#3d4b63;white-space:nowrap;letter-spacing:0px;transform-origin:0 0;transform:scaleX(1.0);">High</div>
<div style="position:absolute;left:239.00px;top:814.99px;font:normal 11px/11px 'Liberation Sans', sans-serif;color:#3d4b63;white-space:nowrap;letter-spacing:0px;transform-origin:0 0;transform:scaleX(1.0);">50% - 80%</div>
<div style="position:absolute;left:161.50px;top:847.64px;font:normal 12px/12px 'Liberation Sans', sans-serif;color:#3d4b63;white-space:nowrap;letter-spacing:0px;transform-origin:0 0;transform:scaleX(1.0);">Medium</div>
<div style="position:absolute;left:239.00px;top:848.49px;font:normal 11px/11px 'Liberation Sans', sans-serif;color:#3d4b63;white-space:nowrap;letter-spacing:0px;transform-origin:0 0;transform:scaleX(1.0);">30% - 50%</div>
<div style="position:absolute;left:161.50px;top:881.14px;font:normal 12px/12px 'Liberation Sans', sans-serif;color:#3d4b63;white-space:nowrap;letter-spacing:0px;transform-origin:0 0;transform:scaleX(1.0);">Low</div>
<div style="position:absolute;left:239.00px;top:881.99px;font:normal 11px/11px 'Liberation Sans', sans-serif;color:#3d4b63;white-space:nowrap;letter-spacing:0px;transform-origin:0 0;transform:scaleX(1.0);">10% - 30%</div>
<div style="position:absolute;left:161.50px;top:914.64px;font:normal 12px/12px 'Liberation Sans', sans-serif;color:#3d4b63;white-space:nowrap;letter-spacing:0px;transform-origin:0 0;transform:scaleX(1.0);">Very Low</div>
<div style="position:absolute;left:239.00px;top:915.49px;font:normal 11px/11px 'Liberation Sans', sans-serif;color:#3d4b63;white-space:nowrap;letter-spacing:0px;transform-origin:0 0;transform:scaleX(1.0);">0% - 10%</div>
<div style="position:absolute;left:39px;top:844.5px;width:200px;height:20px;font:17.5px/20px 'Liberation Sans', sans-serif;color:#3d4b63;text-align:center;transform:rotate(-90deg);white-space:nowrap">PROBABILITY</div>
</div>
</body></html>
